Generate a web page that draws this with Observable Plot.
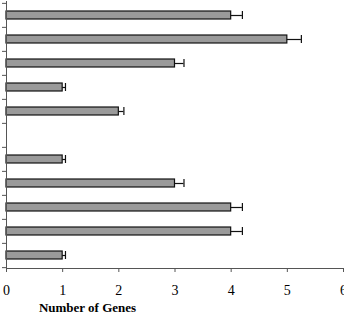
<!DOCTYPE html>
<html>
<head>
<meta charset="utf-8">
<script src="https://cdn.jsdelivr.net/npm/d3@7"></script>
<script src="https://cdn.jsdelivr.net/npm/@observablehq/plot@0.6"></script>
<style>
  html, body { margin: 0; padding: 0; background: #fff; }
  #chart svg { display: block; }
</style>
</head>
<body>
<div id="chart"></div>
<script>
// Categories from top to bottom (the y axis carries no labels)
const categories = ["c1", "c2", "c3", "c4", "c5", "c6", "c7", "c8", "c9", "c10", "c11"];
const values     = [4, 5, 3, 1, 2, null, 1, 3, 4, 4, 1];
const errors     = [0.2, 0.25, 0.16, 0.05, 0.09, null, 0.05, 0.16, 0.2, 0.2, 0.05];
const xTicks     = [0, 1, 2, 3, 4, 5, 6];
const xLabel     = "Number of Genes";

const data = categories.map((c, i) => ({cat: c, value: values[i], err: errors[i]}))
  .filter(d => d.value != null);

const W = 344, H = 317, mTop = 1, mBottom = 49, mLeft = 6, mRight = 1;
const bw = (H - mTop - mBottom) / categories.length;
const inset = bw * 0.33;

const serif = "'Liberation Serif', 'Times New Roman', serif";

const plot = Plot.plot({
  width: W,
  height: H,
  marginTop: mTop,
  marginBottom: mBottom,
  marginLeft: mLeft,
  marginRight: mRight,
  style: {fontFamily: serif, background: "#fff", color: "#000"},
  x: {domain: [0, 6], ticks: xTicks},
  y: {domain: categories, padding: 0, label: null},
  marks: [
    Plot.barX(data, {y: "cat", x: "value", fill: "#9a9a9a", stroke: "#111", strokeWidth: 1.2, insetTop: inset, insetBottom: inset}),
    Plot.ruleY(data, {y: "cat", x1: "value", x2: d => d.value + d.err, stroke: "#111", strokeWidth: 1.2}),
    Plot.tickX(data, {y: "cat", x: d => d.value + d.err, stroke: "#111", strokeWidth: 1.2, insetTop: inset, insetBottom: inset}),
    Plot.axisY({ticks: categories, tickSize: 4, tickFormat: () => "", dy: -bw / 2, stroke: "#555", label: null}),
    Plot.axisY({ticks: [categories[categories.length - 1]], tickSize: 4, tickFormat: () => "", dy: bw / 2, stroke: "#555", label: null}),
    Plot.axisX({ticks: xTicks, tickSize: 4, tickPadding: 13, fontSize: 14, tickFormat: d => String(d), stroke: "#555", label: null}),
    Plot.frame({anchor: "left", stroke: "#555"}),
    Plot.frame({anchor: "bottom", stroke: "#555"}),
    Plot.text([xLabel], {frameAnchor: "bottom-left", dx: 81, dy: 43, text: d => d, fontSize: 13, fontWeight: "bold", fill: "#000", textAnchor: "middle"})
  ]
});
document.getElementById("chart").appendChild(plot);
</script>
</body>
</html>
